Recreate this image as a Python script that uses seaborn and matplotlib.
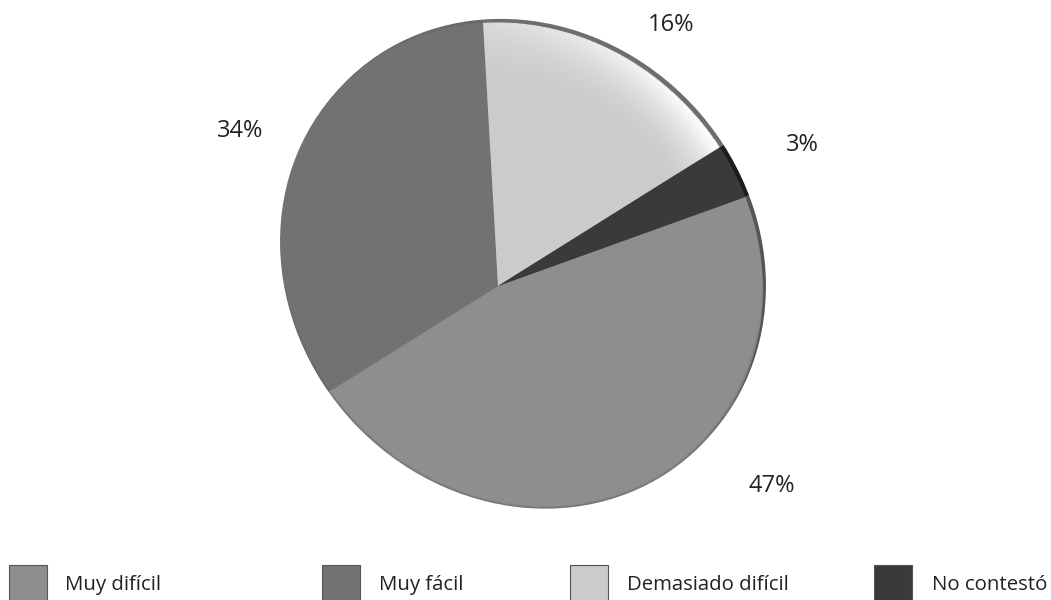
import numpy as np
import matplotlib.pyplot as plt
from matplotlib.patches import Ellipse, Rectangle
import seaborn as sns

# shares as drawn (the tilted pie makes them differ a bit from the printed labels)
categories = ['Muy difícil', 'Muy fácil', 'Demasiado difícil', 'No contestó']
shares = [46.6, 33.0, 17.0, 3.4]
labels = ['47%', '34%', '16%', '3%']
colors = ['#8e8e8e', '#727272', '#cbcbcb', '#3a3a3a']
rim_colors = ['#555555', '#6a6a6a', '#6e6e6e', '#1c1c1c']

sns.set_theme(style='white')
plt.rcParams['font.family'] = ['Open Sans', 'DejaVu Sans']

fig = plt.figure(figsize=(10.51, 6), dpi=100)
ax = fig.add_axes([0, 0, 1, 1])

# the disc is tilted, so it is an ellipse and the apex sits off centre
apex = (498, 314)
cx, cy = 521.5, 334.5
major, minor, tilt = 254, 230, -47
face_outline = Ellipse((cx, cy), 2 * major, 2 * minor, angle=tilt, transform=ax.transData)
rim_outline = Ellipse((cx + 3, cy + 3.5), 2 * major, 2 * minor, angle=tilt, transform=ax.transData)

# rim behind the face
rim, _ = ax.pie(shares, colors=sns.color_palette(rim_colors), startangle=19.8, counterclock=False,
                center=apex, radius=420, frame=True)
for w in rim:
    w.set_clip_on(True)
    w.set_clip_path(rim_outline)
    w.set_linewidth(0)

faces, _ = ax.pie(shares, colors=sns.color_palette(colors), startangle=19.8, counterclock=False,
                  center=apex, radius=420, frame=True)
for w in faces:
    w.set_clip_on(True)
    w.set_clip_path(face_outline)
    w.set_linewidth(0)

# elliptical radius over a grid, used only for the shading
extent = (270, 775, 85, 590)
xx, yy = np.meshgrid(np.linspace(extent[0], extent[1], 500), np.linspace(extent[2], extent[3], 500))
t = np.radians(tilt)
u = (xx - cx) * np.cos(t) + (yy - cy) * np.sin(t)
v = -(xx - cx) * np.sin(t) + (yy - cy) * np.cos(t)
rr = np.hypot(u / major, v / minor)

# glossy highlight on the light slice, strongest towards the upper right
shine = np.ones(xx.shape + (4,))
towards = np.clip((xx - 480) / 220, 0, 1)
shine[..., 3] = np.clip((rr - 0.7) / 0.29, 0, 1) ** 2 * (0.25 + 0.7 * towards) * (rr < 1)
im = ax.imshow(shine, extent=extent, origin='lower', zorder=3, aspect='auto')
im.set_clip_path(faces[2].get_path(), faces[2].get_transform())

# thin dark edge along the bottom left of the disc
edge = np.zeros(xx.shape + (4,))
edge[..., 3] = np.clip((rr - 0.99) / 0.01, 0, 1) * np.clip((333 - yy) / 150, 0, 1) * 0.2
im2 = ax.imshow(edge, extent=extent, origin='lower', zorder=3, aspect='auto')
im2.set_clip_path(face_outline)

label_pos = [(772, 114), (240, 469), (671, 575), (802, 455)]
for lab, (lx, ly) in zip(labels, label_pos):
    ax.text(lx, ly, lab, ha='center', va='center', fontsize=17, color='#222222')

# legend row
swatch_x = [9, 322, 570, 874]
text_x = [65, 379, 627, 932]
for name, c, sx, tx in zip(categories, colors, swatch_x, text_x):
    ax.add_patch(Rectangle((sx, -2), 38, 37, facecolor=c, edgecolor='#555555', linewidth=0.8))
    ax.text(tx, 15, name, ha='left', va='center', fontsize=14.7, color='#222222')

ax.set_xlim(0, 1051)
ax.set_ylim(0, 600)
ax.set_aspect('auto')
ax.axis('off')
fig.savefig('out.png', dpi=100)
